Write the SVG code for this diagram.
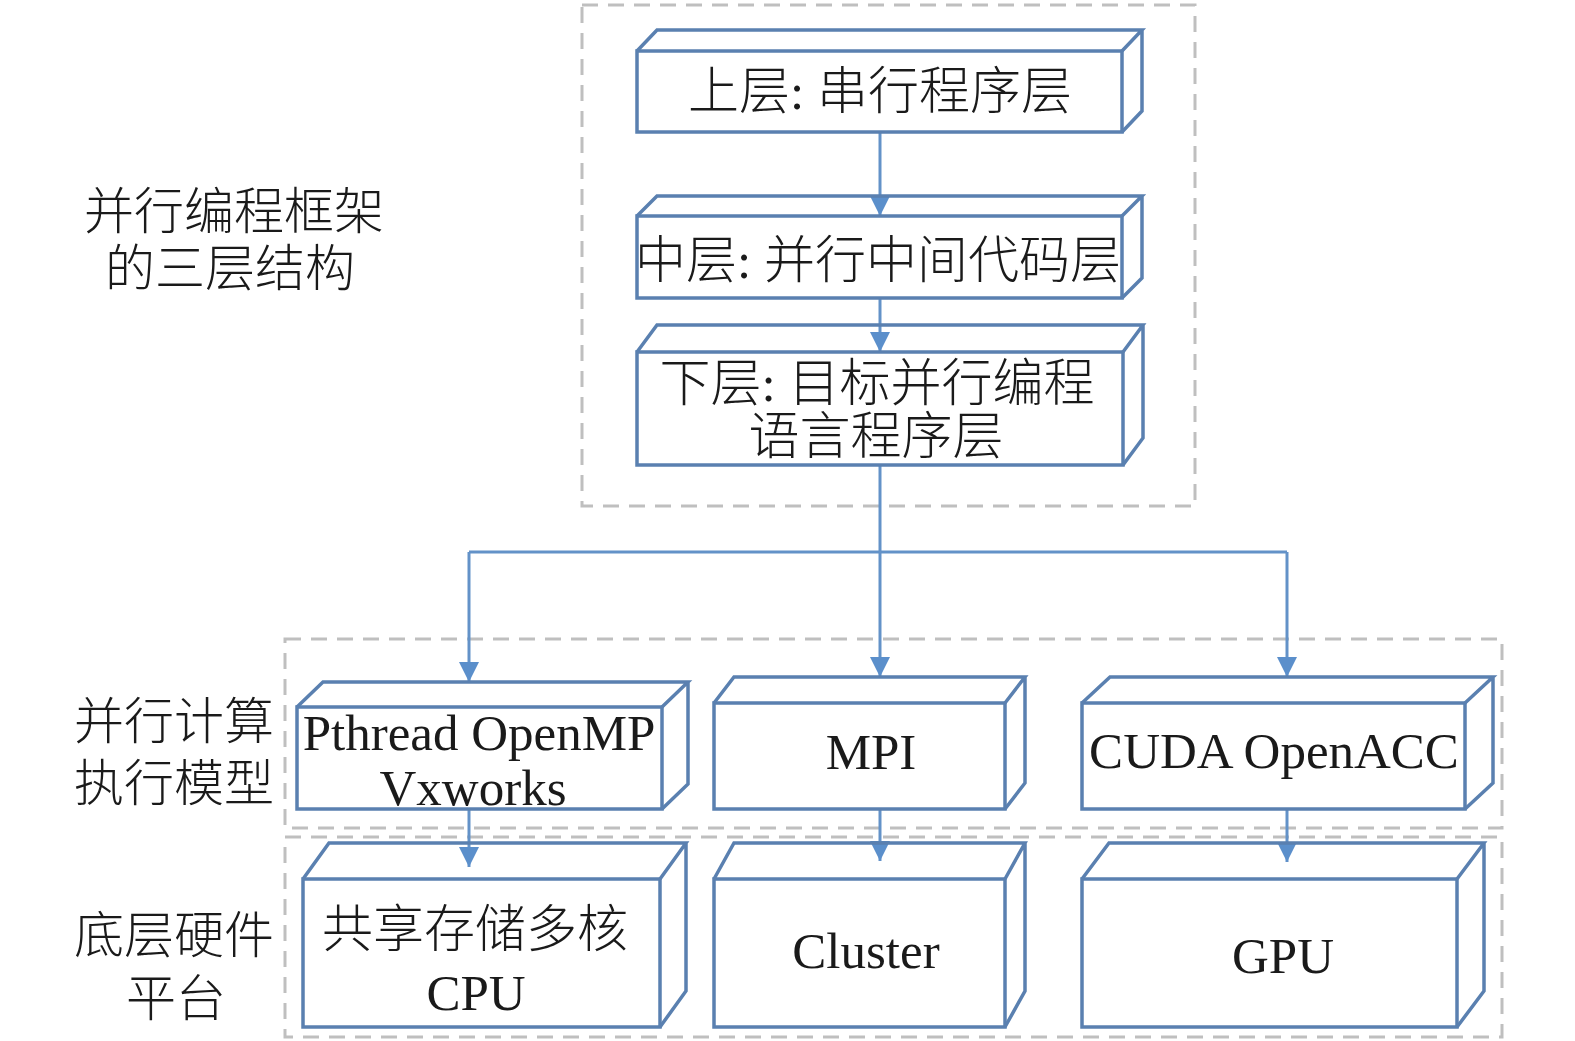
<svg xmlns="http://www.w3.org/2000/svg" width="1575" height="1041" viewBox="0 0 1575 1041">
<defs>
<style>
.grp{fill:none;stroke:#BFBFBF;stroke-width:3;stroke-dasharray:16 10}
.box{fill:#FFFFFF;stroke:#5A80B0;stroke-width:3.5;stroke-linejoin:miter}
.face{fill:none;stroke:#5A80B0;stroke-width:3.5;stroke-linejoin:miter}
.con{fill:none;stroke:#6392C8;stroke-width:3}
.t{font-family:"Liberation Serif","Noto Sans CJK SC",serif;font-size:51px;fill:#1A1A1A;text-anchor:middle}
.c{font-family:"Noto Sans CJK SC","Liberation Serif",sans-serif;font-size:50px;fill:#1A1A1A;text-anchor:middle;font-weight:300}
.cb{font-family:"Liberation Serif","Noto Sans CJK SC",sans-serif;font-size:51px;fill:#1A1A1A;text-anchor:middle;font-weight:300}
</style>
<marker id="arr" viewBox="0 0 20 20" refX="20" refY="10" markerWidth="22" markerHeight="20" markerUnits="userSpaceOnUse" orient="auto">
<path d="M0,0 L20,10 L0,20 z" fill="#5B8FCB"/>
</marker>
</defs>

<g id="groups">
<rect class="grp" x="582" y="5" width="613" height="501"/>
<rect class="grp" x="285" y="639" width="1217" height="189"/>
<rect class="grp" x="285" y="837" width="1217" height="200"/>
</g>

<g id="labels">
<text class="c"><tspan x="234" y="229">并行编程框架</tspan><tspan x="230" y="286">的三层结构</tspan></text>
<text class="c"><tspan x="174" y="739">并行计算</tspan><tspan x="174" y="801">执行模型</tspan></text>
<text class="c"><tspan x="174" y="953">底层硬件</tspan><tspan x="176" y="1016">平台</tspan></text>
</g>

<g id="connectors">
<line class="con" x1="880" y1="132" x2="880" y2="216" marker-end="url(#arr)"/>
<line class="con" x1="880" y1="298" x2="880" y2="352" marker-end="url(#arr)"/>
<line class="con" x1="880" y1="465" x2="880" y2="552"/>
<line class="con" x1="469" y1="552" x2="1287" y2="552"/>
<line class="con" x1="469" y1="552" x2="469" y2="682" marker-end="url(#arr)"/>
<line class="con" x1="880" y1="552" x2="880" y2="677" marker-end="url(#arr)"/>
<line class="con" x1="1287" y1="552" x2="1287" y2="677" marker-end="url(#arr)"/>
<line class="con" x1="469" y1="809" x2="469" y2="867" marker-end="url(#arr)"/>
<line class="con" x1="880" y1="809" x2="880" y2="861" marker-end="url(#arr)"/>
<line class="con" x1="1287" y1="809" x2="1287" y2="862" marker-end="url(#arr)"/>
</g>

<g id="node-upper">
<rect class="box" x="637" y="51" width="485" height="81"/>
<path class="face" d="M637,51 L657,30 L1142,30 L1122,51 M1142,30 L1142,111 L1122,132"/>
<text class="cb" x="880" y="109">上层: 串行程序层</text>
</g>

<g id="node-middle">
<rect class="box" x="637" y="216" width="485" height="82"/>
<path class="face" d="M637,216 L657,196 L1142,196 L1122,216 M1142,196 L1142,278 L1122,298"/>
<text class="cb" x="878" y="278">中层: 并行中间代码层</text>
</g>

<g id="node-lower">
<rect class="box" x="637" y="352" width="486" height="113"/>
<path class="face" d="M637,352 L657,325 L1143,325 L1123,352 M1143,325 L1143,438 L1123,465"/>
<text class="cb"><tspan x="877" y="401">下层: 目标并行编程</tspan><tspan x="876" y="454">语言程序层</tspan></text>
</g>

<g id="node-pthread">
<rect class="box" x="297" y="707" width="365" height="102"/>
<path class="face" d="M297,707 L323,682 L688,682 L662,707 M688,682 L688,784 L662,809"/>
<text class="t"><tspan x="479" y="750">Pthread OpenMP</tspan><tspan x="473" y="805">Vxworks</tspan></text>
</g>

<g id="node-mpi">
<rect class="box" x="714" y="703" width="291" height="106"/>
<path class="face" d="M714,703 L734,677 L1025,677 L1005,703 M1025,677 L1025,783 L1005,809"/>
<text class="t" x="871" y="769">MPI</text>
</g>

<g id="node-cuda">
<rect class="box" x="1082" y="703" width="383" height="106"/>
<path class="face" d="M1082,703 L1110,677 L1493,677 L1465,703 M1493,677 L1493,783 L1465,809"/>
<text class="t" x="1274" y="768">CUDA OpenACC</text>
</g>

<g id="node-cpu">
<rect class="box" x="303" y="879" width="357" height="148"/>
<path class="face" d="M303,879 L329,843 L686,843 L660,879 M686,843 L686,991 L660,1027"/>
<text class="cb"><tspan x="475" y="947">共享存储多核</tspan><tspan x="476" y="1010" font-weight="400">CPU</tspan></text>
</g>

<g id="node-cluster">
<rect class="box" x="714" y="879" width="291" height="148"/>
<path class="face" d="M714,879 L734,843 L1025,843 L1005,879 M1025,843 L1025,991 L1005,1027"/>
<text class="t" x="866" y="968">Cluster</text>
</g>

<g id="node-gpu">
<rect class="box" x="1082" y="879" width="375" height="148"/>
<path class="face" d="M1082,879 L1109,843 L1484,843 L1457,879 M1484,843 L1484,991 L1457,1027"/>
<text class="t" x="1283" y="973">GPU</text>
</g>
</svg>
